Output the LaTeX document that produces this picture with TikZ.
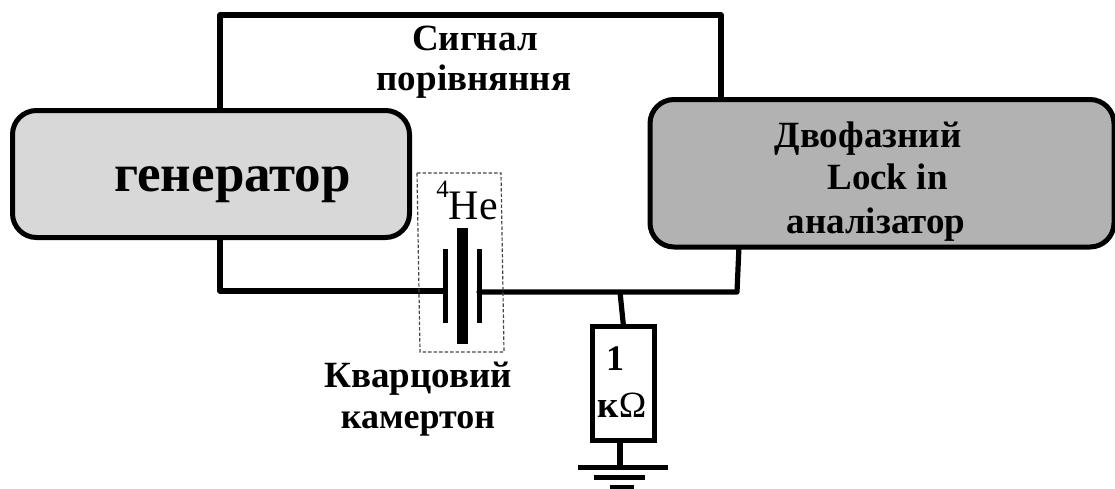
\documentclass[tikz,border=0pt]{standalone}
\usepackage{fontspec}
\setmainfont{Liberation Serif}
\tikzset{
  wire/.style={line width=5.2pt,line cap=round,line join=round},
  block/.style={draw=black,line width=5pt,rounded corners=24pt,inner sep=0pt,outer sep=0pt,anchor=north west},
  lbl/.style={font=\bfseries,inner sep=0pt,align=center,text=black,anchor=base},
  bar/.style={line width=5pt},
}
\begin{document}
\begin{tikzpicture}[x=1pt,y=-1pt]
\useasboundingbox (0,0) rectangle (1115,488);
\clip (0,0) rectangle (1115,488);
% junction / corner coordinates
\coordinate (tl) at (220,15);
\coordinate (tr) at (721,15);
\coordinate (gt) at (220,112);
\coordinate (lt) at (721,100);
\coordinate (gb) at (220,237);
\coordinate (bl) at (220,291);
\coordinate (pl) at (445,291);
\coordinate (lb) at (739,246);
\coordinate (br) at (737,292);
\coordinate (pr) at (479,292);
\coordinate (jn) at (620,292);
\coordinate (g1) at (620,467);
% wires
\draw[wire] (gt) -- (tl) -- (tr) -- (lt);
\draw[wire] (gb) -- (bl) -- (pl);
\draw[wire] (pr) -- (br) -- (lb);
% blocks
\node[block,fill={rgb,255:red,216;green,216;blue,216},minimum width=397pt,minimum height=127pt] (gen) at (12.5,110.5) {};
\node[block,fill={rgb,255:red,178;green,178;blue,178},minimum width=464pt,minimum height=147.5pt] (lock) at (650,99.5) {};
% dashed enclosure
\draw[dash pattern=on 3.5pt off 2pt,line width=1.2pt,draw={rgb,255:red,70;green,70;blue,70}] (417,173) -- (501,173) -- (504,352) -- (420,352) -- cycle;
% quartz fork
\fill (443,249) rectangle (448,323);
\fill (457,228) rectangle (468,344);
\fill (476.5,249) rectangle (482,323);
% resistor
\node[draw=black,line width=5pt,minimum width=62pt,minimum height=114pt,inner sep=0pt,outer sep=0pt,anchor=north west,fill=white] (res) at (592.5,326.5) {};
\draw[wire,line cap=butt] (jn) -- (res.north);
% ground
\draw[wire,line cap=butt] (res.south -| g1) -- (g1);
\draw[bar] (578,467) -- (668,467);
\draw[bar] (594,477) -- (645,477);
\draw[bar] (610,487) -- (634,487);
% labels
\node[lbl,font=\bfseries\fontsize{53}{53}\selectfont] (tgen) at (232.5,191) {генератор};
\node[lbl,font=\bfseries\fontsize{37}{37}\selectfont] (t1) at (475,50) {Сигнал};
\node[lbl,font=\bfseries\fontsize{37}{37}\selectfont] (t2) at (474,90) {порівняння};
\node[lbl,font=\bfseries\fontsize{37}{37}\selectfont] (t3) at (868,147) {Двофазний};
\node[lbl,font=\bfseries\fontsize{37}{37}\selectfont] (t4) at (887.5,189) {Lock in};
\node[lbl,font=\bfseries\fontsize{37}{37}\selectfont] (t5) at (876,233) {аналізатор};
\node[lbl,font=\bfseries\fontsize{37}{37}\selectfont] (t6) at (418,387) {Кварцовий};
\node[lbl,font=\bfseries\fontsize{36}{36}\selectfont] (t7) at (418,428) {камертон};
\node[inner sep=0pt,anchor=base,font=\fontsize{42}{42}\selectfont] (he) at (467,219) {\raisebox{22pt}{\fontsize{25}{25}\selectfont 4}He};
\node[lbl,font=\fontsize{36}{36}\selectfont\bfseries] (r1) at (615,370) {1};
\node[lbl,font=\fontsize{37}{37}\selectfont\bfseries] (r2) at (622,417) {к\textmd{Ω}};
\end{tikzpicture}
\end{document}
